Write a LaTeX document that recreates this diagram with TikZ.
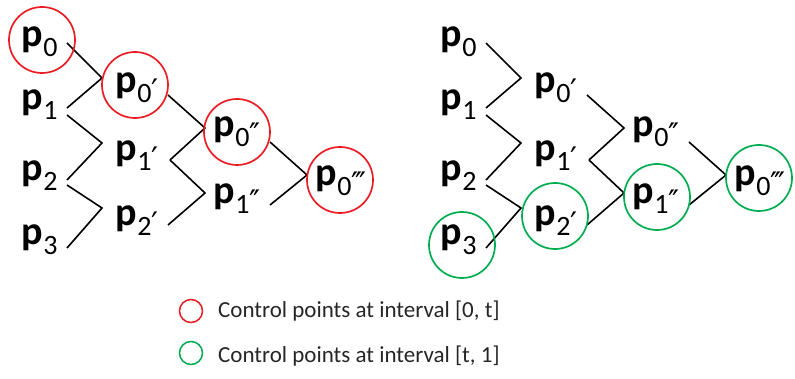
\documentclass[tikz,border=0pt]{standalone}
\usepackage{fontspec}
\setmainfont{Carlito}
\newfontfamily\primefont{DejaVu Sans}
\definecolor{ccred}{RGB}{235,28,36}
\definecolor{ccgreen}{RGB}{0,172,80}
\definecolor{legtext}{RGB}{38,38,38}
\newcommand\pr{\raisebox{1.5pt}{\primefont\fontsize{31}{31}\selectfont ′}\kern-3.5pt}
\newcommand\plabel[2]{{\fontsize{40}{40}\selectfont\bfseries p}\kern1pt\raisebox{-10pt}{\fontsize{28}{28}\selectfont #1\kern0.3pt#2}}
\tikzset{
  lbl/.style={anchor=base west, inner sep=0pt, outer sep=0pt},
  conn/.style={draw=black, line width=1.6pt},
  ring/.style={circle, draw=#1, line width=1.7pt, minimum size=66pt, inner sep=0pt},
  legring/.style={circle, draw=#1, line width=1.5pt, minimum size=23pt, inner sep=0pt},
  legtxt/.style={anchor=base west, inner sep=0pt, text=legtext, font=\fontsize{23}{23}\selectfont}
}
\newcommand\drawtree[2]{%
\begin{scope}[xshift=#2]
\node[lbl] (#1P0) at (21,47) {\plabel{0}{}};
\node[lbl] (#1P1) at (21,110) {\plabel{1}{}};
\node[lbl] (#1P2) at (21,181) {\plabel{2}{}};
\node[lbl] (#1P3) at (21,245) {\plabel{3}{}};
\node[lbl] (#1Q0) at (115,93) {\plabel{0}{\pr}};
\node[lbl] (#1Q1) at (115,161) {\plabel{1}{\pr}};
\node[lbl] (#1Q2) at (115,226) {\plabel{2}{\pr}};
\node[lbl] (#1R0) at (213,137) {\plabel{0}{\pr\pr}};
\node[lbl] (#1R1) at (213,204) {\plabel{1}{\pr\pr}};
\node[lbl] (#1S0) at (315,186) {\plabel{0}{\pr\pr\pr}};
\draw[conn] ([shift={(46,-4)}]#1P0.base west) -- ([shift={(-13,-15)}]#1Q0.base west) -- ([shift={(46,-2)}]#1P1.base west);
\draw[conn] ([shift={(46,5)}]#1P1.base west) -- ([shift={(-13,-18)}]#1Q1.base west) -- ([shift={(46,-1)}]#1P2.base west);
\draw[conn] ([shift={(46,4)}]#1P2.base west) -- ([shift={(-13,-18)}]#1Q2.base west) -- ([shift={(46,3)}]#1P3.base west);
\draw[conn] ([shift={(53,2)}]#1Q0.base west) -- ([shift={(-8,-9)}]#1R0.base west) -- ([shift={(55,-1)}]#1Q1.base west);
\draw[conn] ([shift={(55,-1)}]#1Q1.base west) -- ([shift={(-8,-11)}]#1R1.base west) -- ([shift={(53,-1)}]#1Q2.base west);
\draw[conn] ([shift={(57,5)}]#1R0.base west) -- ([shift={(-8,-11)}]#1S0.base west) -- ([shift={(57,1)}]#1R1.base west);
\end{scope}}
\begin{document}
\begin{tikzpicture}[x=1pt,y=-1pt]
\useasboundingbox (0,0) rectangle (795,379);
\drawtree{L}{0pt}
\drawtree{R}{419pt}
% red circles, interval [0,t]
\node[ring=ccred] (cL0) at ([shift={(21,-7)}]LP0.base west) {};
\node[ring=ccred] (cL1) at ([shift={(20,-8)}]LQ0.base west) {};
\node[ring=ccred] (cL2) at ([shift={(24,-5)}]LR0.base west) {};
\node[ring=ccred] (cL3) at ([shift={(25,-6)}]LS0.base west) {};
% green circles, interval [t,1]
\node[ring=ccgreen] (cR0) at ([shift={(22,0)}]RP3.base west) {};
\node[ring=ccgreen] (cR1) at ([shift={(21,-10)}]RQ2.base west) {};
\node[ring=ccgreen] (cR2) at ([shift={(25,-7)}]RR1.base west) {};
\node[ring=ccgreen] (cR3) at ([shift={(25,-8)}]RS0.base west) {};
% legend
\node[legring=ccred] (legr) at (191,311) {};
\node[legtxt] (legrt) at (218,318) {Control points at interval [0, t]};
\node[legring=ccgreen] (legg) at (191,353) {};
\node[legtxt] (leggt) at (218,362) {Control points at interval [t, 1]};
\end{tikzpicture}
\end{document}
